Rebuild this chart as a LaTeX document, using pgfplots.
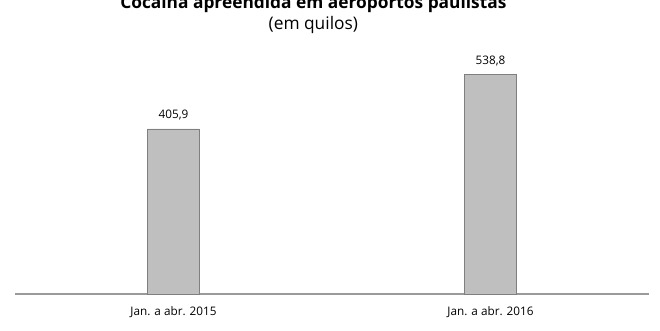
\documentclass[border=0pt]{standalone}
\usepackage{pgfplots}
\pgfplotsset{compat=1.18}
\usepackage{fontspec}
\setmainfont{Open Sans}
\definecolor{barfill}{HTML}{BFBFBF}
\definecolor{barline}{HTML}{7F7F7F}
\definecolor{axisline}{HTML}{9A9A9A}
\begin{document}
\begin{tikzpicture}
\useasboundingbox (0,0) rectangle (495pt,247.5pt);
\clip (0,0) rectangle (495pt,247.5pt);
\begin{axis}[
  at={(11.25pt,27pt)}, anchor=south west,
  scale only axis, width=475.5pt, height=183pt,
  xmin=-0.5, xmax=1.5, ymin=0, ymax=600,
  axis y line=none, axis x line*=bottom,
  x axis line style={draw=axisline, line width=0.8pt, -},
  xtick=data, xticklabels={Jan. a abr. 2015, Jan. a abr. 2016},
  major tick length=0pt,
  xticklabel style={font=\fontsize{8.8}{10}\selectfont, yshift=-6pt},
  ybar, bar width=39pt,
  nodes near coords,
  nodes near coords style={font=\fontsize{8.8}{10}\selectfont, yshift=3pt},
  point meta=explicit symbolic,
  clip=false,
]
\addplot[fill=barfill, draw=barline, line width=0.6pt] coordinates {(0,405.9) [405,9] (1,538.8) [538,8]};
\end{axis}
\node[anchor=base, font=\bfseries\fontsize{13}{15}\selectfont] at (235pt,241.5pt) {Cocaína apreendida em aeroportos paulistas};
\node[anchor=base, font=\fontsize{13}{15}\selectfont] at (235pt,225.5pt) {(em quilos)};
\end{tikzpicture}
\end{document}
